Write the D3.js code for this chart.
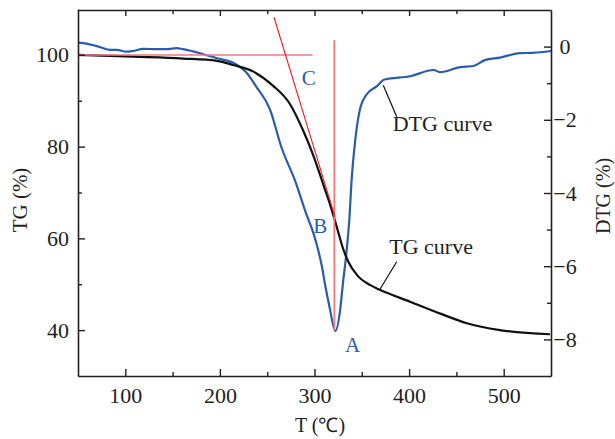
<!DOCTYPE html>
<html><head><meta charset="utf-8">
<script src="https://cdn.jsdelivr.net/npm/d3@7"></script>
<style>body{margin:0;background:#fff}svg{display:block}</style>
</head><body>
<svg id="c" width="615" height="439"></svg>
<script>
// ---- data ----
const tgTemp = [50,108,161,197,214,235,256,274,288,297,304,310,316,321,326,330,336,345,359,369,401,433,461,496,549];
const tgVal  = [100,99.6,99.2,98.7,97.8,96.4,93.3,89.3,83.5,79.0,75.0,71.3,67.7,64.3,60.7,57.9,54.8,52.0,49.8,48.8,46.2,43.6,41.5,40.0,39.1];
const dtgTemp = [50,59,73,84,91,101,108,119,133,144,154,161,179,197,214,228,238,253,265,280,291,299,304,308,311,316,322,327,330,334,337,339,342,348,355,366,374,401,426,433,454,468,480,496,517,531,550];
const dtgVal  = [0.11,0.08,-0.01,-0.09,-0.09,-0.14,-0.12,-0.06,-0.07,-0.07,-0.04,-0.07,-0.18,-0.32,-0.44,-0.71,-1.08,-1.72,-2.75,-3.7,-4.55,-5.11,-5.57,-6.03,-6.48,-7.13,-7.77,-7.22,-6.48,-5.57,-4.65,-3.74,-2.82,-1.72,-1.31,-1.08,-0.90,-0.81,-0.64,-0.70,-0.56,-0.53,-0.37,-0.30,-0.18,-0.17,-0.12];
const xTicks = [100,200,300,400,500];
const xMinor = [150,250,350,450];
const tgTicks = [40,60,80,100];
const tgMinor = [50,70,90];
const dtgTicks = [-8,-6,-4,-2,0];
const dtgMinor = [-7,-5,-3,-1];
// reference construction lines (T, TG)
const hLine = [[50,100],[298,100]];
const tangent = [[257.2,108.2],[321.7,64.7]];
const vLine = [[321,103.2],[321,40]];
// point labels (T, TG)
const pointLabels = [
  {t:"C", x:286.5, y:93.4},
  {t:"B", x:298.7, y:61.2},
  {t:"A", x:332.2, y:35.2}
];
// curve labels: text pos in (T, TG), leader line in (T, TG)
const curveLabels = [
  {t:"DTG curve", tx:382.7, ty:83.3, lead:[[372.7,93.4],[386.9,86.5]]},
  {t:"TG curve",  tx:379,   ty:56.6, lead:[[369.2,48.9],[386.9,54.9]]}
];

// ---- layout ----
const L=78, R=551, T=10, B=376;
const svg = d3.select("#c");
const font = "'Liberation Serif','Times New Roman',serif";
const ink = "#231f20", blue="#2b5cab";

const x = d3.scaleLinear().domain([50,550]).range([L,R]);
const yL = d3.scaleLinear().domain([30,110]).range([B,T-1]);
const yR = d3.scaleLinear().domain([-9,1]).range([B,T]);

const g = svg.append("g");

// curves
const lineTG = d3.line().x(d=>x(d[0])).y(d=>yL(d[1])).curve(d3.curveMonotoneX);
const lineDTG = d3.line().x(d=>x(d[0])).y(d=>yR(d[1])).curve(d3.curveMonotoneX);
const lineRef = d3.line().x(d=>x(d[0])).y(d=>yL(d[1]));

g.append("path").attr("d", lineDTG(dtgTemp.map((t,i)=>[t,dtgVal[i]])))
  .attr("fill","none").attr("stroke",blue).attr("stroke-width",2.2);
g.append("path").attr("d", lineTG(tgTemp.map((t,i)=>[t,tgVal[i]])))
  .attr("fill","none").attr("stroke","#111").attr("stroke-width",2.2);

g.append("path").attr("d", lineRef(hLine)).attr("stroke","#f27878").attr("stroke-width",1.5).attr("fill","none");
g.append("path").attr("d", lineRef(vLine)).attr("stroke","#f27878").attr("stroke-width",1.8).attr("fill","none");
g.append("path").attr("d", lineRef(tangent)).attr("stroke","#ee1c24").attr("stroke-width",1.1).attr("fill","none");

// point labels
pointLabels.forEach(p=>{
  g.append("text").attr("x",x(p.x)).attr("y",yL(p.y)).text(p.t)
   .attr("font-family",font).attr("font-size",21).attr("fill",blue);
});
// curve labels
curveLabels.forEach(c=>{
  g.append("path").attr("d", lineRef(c.lead)).attr("stroke","#111").attr("stroke-width",1.2).attr("fill","none");
  g.append("text").attr("x",x(c.tx)).attr("y",yL(c.ty)).text(c.t)
   .attr("font-family",font).attr("font-size",22).attr("fill",ink);
});

// axes
function styleAxis(sel){
  sel.selectAll("path.domain").attr("stroke",ink).attr("stroke-width",1.6);
  sel.selectAll(".tick line").attr("stroke",ink).attr("stroke-width",1.4);
  sel.selectAll("text").attr("font-family",font).attr("font-size",22).attr("fill",ink);
}
// bottom
let a = svg.append("g").attr("transform",`translate(0,${B})`)
  .call(d3.axisBottom(x).tickValues(xTicks).tickSize(-7).tickSizeOuter(0).tickPadding(11).tickFormat(d3.format("d")));
styleAxis(a);
svg.append("g").attr("transform",`translate(0,${B})`)
  .call(d3.axisBottom(x).tickValues(xMinor).tickSize(-4).tickSizeOuter(0).tickFormat(""))
  .call(s=>{s.select(".domain").remove(); styleAxis(s);});
// top
a = svg.append("g").attr("transform",`translate(0,${T})`)
  .call(d3.axisTop(x).tickValues(xTicks).tickSize(-6).tickSizeOuter(0).tickFormat(""));
styleAxis(a);
svg.append("g").attr("transform",`translate(0,${T})`)
  .call(d3.axisTop(x).tickValues(xMinor).tickSize(-4).tickSizeOuter(0).tickFormat(""))
  .call(s=>{s.select(".domain").remove(); styleAxis(s);});
// left
a = svg.append("g").attr("transform",`translate(${L},0)`)
  .call(d3.axisLeft(yL).tickValues(tgTicks).tickSize(-7).tickSizeOuter(0).tickPadding(9).tickFormat(d3.format("d")));
styleAxis(a);
svg.append("g").attr("transform",`translate(${L},0)`)
  .call(d3.axisLeft(yL).tickValues(tgMinor).tickSize(-4).tickSizeOuter(0).tickFormat(""))
  .call(s=>{s.select(".domain").remove(); styleAxis(s);});
// right
a = svg.append("g").attr("transform",`translate(${R},0)`)
  .call(d3.axisRight(yR).tickValues(dtgTicks).tickSize(-7).tickSizeOuter(0).tickPadding(14));
styleAxis(a);
a.selectAll(".tick text").attr("text-anchor","middle").attr("x",14);
svg.append("g").attr("transform",`translate(${R},0)`)
  .call(d3.axisRight(yR).tickValues(dtgMinor).tickSize(-4).tickSizeOuter(0).tickFormat(""))
  .call(s=>{s.select(".domain").remove(); styleAxis(s);});

// axis titles
svg.append("text").attr("x",320).attr("y",432).attr("text-anchor","middle")
  .attr("font-family",font).attr("font-size",20).attr("fill",ink).text("T (℃)");
svg.append("text").attr("transform","translate(27,200) rotate(-90)").attr("text-anchor","middle")
  .attr("font-family",font).attr("font-size",21).attr("fill",ink).text("TG (%)");
svg.append("text").attr("transform","translate(610,196) rotate(-90)").attr("text-anchor","middle")
  .attr("font-family",font).attr("font-size",20).attr("fill",ink).text("DTG (%)");
</script>
</body></html>
